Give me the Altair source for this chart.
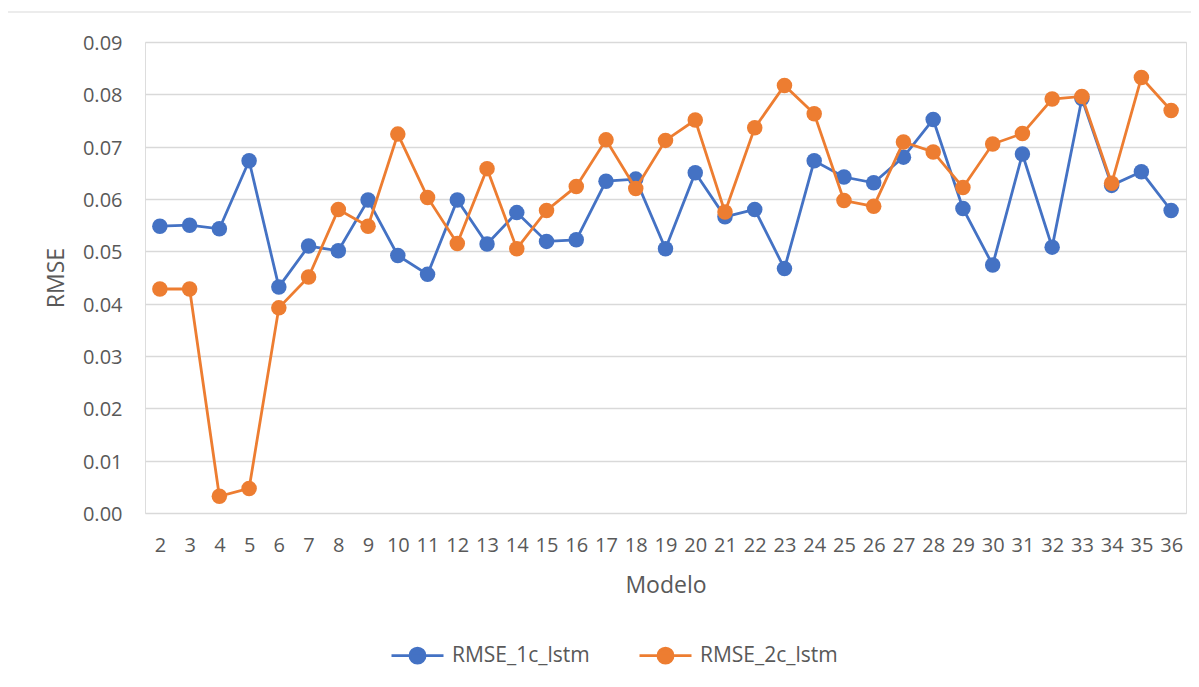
import altair as alt
import pandas as pd

modelos = [str(i) for i in range(2, 37)]
rmse_1c = [0.0548, 0.0550, 0.0543, 0.0673, 0.0432, 0.0510, 0.0501, 0.0598, 0.0492, 0.0456,
           0.0598, 0.0514, 0.0574, 0.0519, 0.0522, 0.0634, 0.0638, 0.0505, 0.0650, 0.0566,
           0.0580, 0.0467, 0.0673, 0.0642, 0.0631, 0.0680, 0.0752, 0.0582, 0.0474, 0.0686,
           0.0508, 0.0792, 0.0626, 0.0652, 0.0578]
rmse_2c = [0.0428, 0.0428, 0.0032, 0.0047, 0.0392, 0.0451, 0.0580, 0.0548, 0.0724, 0.0603,
           0.0515, 0.0658, 0.0505, 0.0578, 0.0624, 0.0713, 0.0620, 0.0712, 0.0751, 0.0575,
           0.0736, 0.0817, 0.0763, 0.0597, 0.0586, 0.0709, 0.0690, 0.0622, 0.0705, 0.0725,
           0.0791, 0.0796, 0.0630, 0.0832, 0.0769]
series = ["RMSE_1c_lstm", "RMSE_2c_lstm"]
colors = ["#4472C4", "#ED7D31"]
y_ticks = [0.0, 0.01, 0.02, 0.03, 0.04, 0.05, 0.06, 0.07, 0.08, 0.09]

rows = []
for m, a, b in zip(modelos, rmse_1c, rmse_2c):
    rows.append({"Modelo": m, "RMSE": a, "Serie": series[0]})
    rows.append({"Modelo": m, "RMSE": b, "Serie": series[1]})
df = pd.DataFrame(rows)

FONT = "Open Sans"
TXT = "#595959"

x_enc = alt.X("Modelo:O", sort=modelos, scale=alt.Scale(padding=0.5),
              axis=alt.Axis(title="Modelo", labelAngle=0, labelFontSize=20, labelColor=TXT,
                            labelFont=FONT, labelPadding=22, ticks=False, tickSize=0,
                            domain=False, grid=False, titleFont=FONT, titleFontSize=23,
                            titleColor=TXT, titleFontWeight="normal",
                            titleBaseline="alphabetic", titleY=79))
y_enc = alt.Y("RMSE:Q", scale=alt.Scale(domain=[0, 0.09], nice=False, zero=True),
              axis=alt.Axis(title="RMSE", values=y_ticks, format=".2f", labelFontSize=20,
                            labelColor=TXT, labelFont=FONT, labelPadding=23, labelOffset=1.5,
                            ticks=False, tickSize=0, domain=False, grid=True,
                            gridColor="#D9D9D9", gridWidth=1.5, titleFont=FONT,
                            titleFontSize=23, titleColor=TXT, titleFontWeight="normal",
                            titleBaseline="alphabetic", titleX=-82, titleY=235.5,
                            titleAngle=270))

legend_path = "M-1,0L1,0M0.29,0A0.29,0.29,0,1,1,-0.29,0A0.29,0.29,0,1,1,0.29,0Z"
color_enc = alt.Color("Serie:N", scale=alt.Scale(domain=series, range=colors),
                      legend=alt.Legend(title=None, orient="none", legendX=245, legendY=586,
                                        direction="horizontal", symbolType=legend_path,
                                        symbolSize=2704, symbolStrokeWidth=2.8,
                                        labelFont=FONT, labelFontSize=21, labelColor=TXT,
                                        labelOffset=7, columnPadding=43, padding=0,
                                        labelLimit=300))

base = alt.Chart(df)
layers = []
for s in series:
    sub = base.transform_filter(alt.datum.Serie == s)
    layers.append(sub.mark_line(strokeWidth=2.8).encode(x=x_enc, y=y_enc, color=color_enc))
    layers.append(sub.mark_point(filled=True, size=240, opacity=1, strokeWidth=0)
                  .encode(x=x_enc, y=y_enc, color=color_enc))

frame = alt.Chart(pd.DataFrame({"k": [0]})).mark_rect(
    fill=None, stroke="#D9D9D9", strokeWidth=1.2, clip=False
).encode(x=alt.value(-140), x2=alt.value(1060), y=alt.value(-30), y2=alt.value(660))

chart = alt.layer(frame, *layers).properties(
    width=1041, height=471,
    autosize=alt.AutoSizeParams(type="none"),
    padding={"left": 137, "top": 34, "right": 5, "bottom": 174},
).configure_view(stroke=None).configure(background="white")

chart.save("out.html", embed_options={"renderer": "svg", "actions": False})
